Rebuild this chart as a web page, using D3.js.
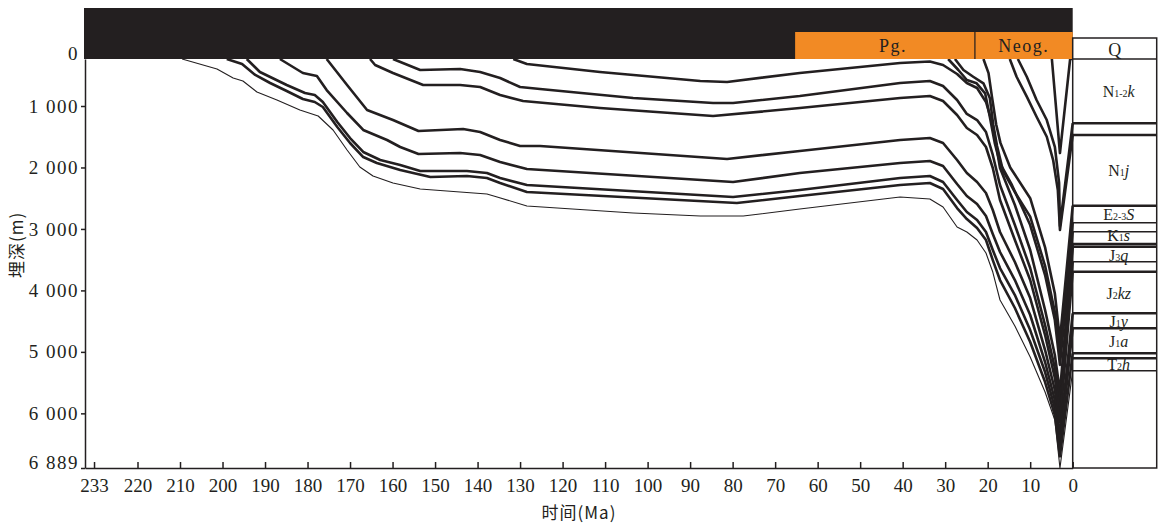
<!DOCTYPE html>
<html>
<head>
<meta charset="utf-8">
<script src="https://cdn.jsdelivr.net/npm/d3@7"></script>
<style>
  body { margin: 0; background: #fff; }
  svg text { font-family: "Liberation Serif", "DejaVu Serif", serif; fill: #231f20; }
  svg text.cjk { font-family: "Noto Sans CJK SC", sans-serif; }
</style>
</head>
<body>
<svg id="chart" width="1168" height="525"></svg>
<script>
// ---- axis ticks ----
const timeTicks = [233, 220, 210, 200, 190, 180, 170, 160, 150, 140, 130, 120, 110, 100, 90, 80, 70, 60, 50, 40, 30, 20, 10, 0];
const depthTicks = [0, 1000, 2000, 3000, 4000, 5000, 6000, 6889];

// ---- time scale header ----
const periodNames = ["Pg.", "Neog."];
const periodStart = [65.3, 23];
const periodEnd = [23, 0];

// ---- burial curves, [time Ma, depth m] ----
const h1 = [[4.9, 0], [3.0, 1765], [0.6, 0], [0, 0]];
const h2 = [[12.9, 0], [10.8, 377], [8.5, 872], [6.1, 1228], [4.2, 1663], [3.2, 2253], [3.0, 2950], [0, 1281]];
const h3 = [[14.8, 0], [13.2, 377], [10.8, 802], [8.5, 1174], [6.1, 1500], [4.6, 1879], [3.5, 2367], [3.0, 3017], [0, 1472]];
const h4 = [[21.0, 0], [19.8, 300], [19.0, 800], [18.0, 1300], [17.0, 1600], [14.7, 2000], [10.0, 2500], [6.5, 3300], [4.2, 4050], [3.0, 4800], [0, 2622]];
const h5 = [[27.7, 0], [25.7, 234], [23.4, 377], [21.0, 517], [19.5, 830], [18.7, 1300], [17.8, 1650], [16.4, 2050], [13.6, 2400], [10.0, 2800], [6.5, 3600], [4.2, 4350], [3.0, 5000], [0, 2899]];
const h6 = [[29.3, 0], [26.9, 234], [24.9, 447], [22.6, 517], [20.6, 730], [19.5, 1174], [18.3, 1614], [17.1, 1932], [14.3, 2285], [10.0, 2936], [6.5, 3750], [4.2, 4482], [3.0, 5213], [0, 3045]];
const l1 = [[131.6, 0], [128.4, 106], [111.2, 277], [87.6, 468], [81.3, 489], [64.2, 298], [40.6, 85], [33.6, 53], [30.5, 128], [27.2, 319], [24.9, 511], [22.5, 617], [20.4, 915], [18.8, 1309], [17.1, 2009], [13.6, 2611], [10.0, 3343], [6.5, 4319], [4.2, 5051], [3.0, 5650], [0, 3245]];
const l2 = [[159.9, 0], [153.5, 234], [144.1, 213], [139.4, 277], [134.7, 404], [130.0, 596], [125.3, 638], [103.4, 830], [84.6, 936], [79.9, 936], [64.2, 787], [40.6, 511], [33.6, 468], [30.5, 575], [27.2, 872], [24.9, 1130], [22.5, 1228], [20.4, 1423], [18.8, 1797], [17.1, 2285], [13.6, 2936], [10.0, 3636], [6.5, 4563], [4.2, 5263], [3.0, 5850], [0, 3289]];
const l3 = [[165.3, 0], [164.1, 128], [159.9, 298], [152.8, 553], [144.1, 553], [139.4, 596], [134.7, 766], [129.3, 894], [111.2, 1033], [84.6, 1163], [64.2, 1033], [40.6, 830], [33.6, 787], [30.5, 894], [27.2, 1146], [24.9, 1358], [22.5, 1472], [20.4, 1667], [18.8, 2009], [17.1, 2529], [13.6, 3180], [10.0, 3831], [6.5, 4726], [4.2, 5425], [3.0, 6000], [0, 3533]];
const l4 = [[175.5, 0], [170.7, 553], [166.0, 1065], [159.9, 1228], [153.9, 1407], [143.4, 1374], [139.4, 1423], [134.7, 1553], [130.0, 1651], [125.3, 1651], [81.3, 1862], [64.2, 1732], [40.6, 1553], [33.6, 1521], [30.5, 1602], [27.2, 1879], [24.9, 2090], [22.5, 2237], [20.4, 2415], [18.8, 2692], [17.1, 3050], [13.6, 3538], [10.0, 4124], [6.5, 4970], [4.2, 5621], [3.0, 6150], [0, 3696]];
const l5 = [[186.5, 0], [181.1, 298], [177.8, 362], [175.5, 660], [170.7, 1114], [166.9, 1390], [161.3, 1553], [158.2, 1667], [153.9, 1781], [144.1, 1765], [139.4, 1797], [134.7, 1911], [128.4, 2025], [79.9, 2237], [64.2, 2090], [40.6, 1927], [33.6, 1895], [30.5, 1976], [27.2, 2269], [24.9, 2464], [22.5, 2594], [20.4, 2790], [18.8, 3083], [17.1, 3375], [13.6, 3831], [10.0, 4400], [6.5, 5165], [4.2, 5783], [3.0, 6350], [0, 4372]];
const l6 = [[194.3, 0], [191.2, 277], [184.9, 553], [180.6, 724], [178.3, 766], [176.4, 915], [173.0, 1260], [170.0, 1521], [166.9, 1748], [162.9, 1879], [158.2, 1960], [153.5, 2058], [142.5, 2058], [137.8, 2090], [134.7, 2171], [128.4, 2285], [79.9, 2481], [64.2, 2367], [40.6, 2171], [33.6, 2139], [30.5, 2237], [27.2, 2529], [24.9, 2725], [22.5, 2855], [20.4, 3050], [18.8, 3343], [17.1, 3636], [13.6, 4075], [10.0, 4645], [6.5, 5328], [4.2, 5914], [3.0, 6550], [0, 4616]];
const l7 = [[199.0, 0], [195.4, 106], [192.3, 340], [188.8, 511], [184.9, 681], [181.1, 851], [178.3, 915], [176.4, 1016], [173.0, 1342], [170.0, 1602], [166.9, 1830], [163.7, 1927], [158.2, 2041], [151.1, 2155], [142.5, 2139], [137.8, 2171], [134.7, 2253], [128.4, 2399], [79.0, 2578], [64.2, 2464], [40.6, 2285], [33.6, 2253], [30.5, 2350], [27.2, 2660], [24.9, 2839], [22.5, 2985], [20.4, 3180], [18.8, 3506], [17.1, 3831], [13.6, 4286], [10.0, 4840], [6.5, 5491], [4.2, 6027], [3.0, 6700], [0, 5023]];
const l8 = [[209.5, 0], [201.3, 213], [197.5, 404], [195.2, 468], [191.9, 702], [187.2, 872], [181.8, 1065], [177.5, 1163], [174.0, 1390], [170.7, 1716], [167.7, 1992], [164.6, 2139], [159.9, 2253], [153.5, 2350], [144.1, 2399], [137.8, 2432], [135.4, 2480], [128.4, 2627], [103.4, 2741], [87.6, 2790], [77.5, 2790], [64.2, 2676], [40.6, 2480], [33.6, 2513], [30.5, 2643], [27.2, 2969], [24.9, 3050], [22.5, 3180], [20.4, 3392], [18.8, 3701], [17.1, 4156], [13.6, 4579], [10.0, 5084], [6.5, 5653], [4.2, 6108], [3.0, 6889], [0, 5306]];

// ---- present-day stratigraphic column ----
const columnBreaks = [1281, 1472, 2622, 2899, 3045, 3245, 3289, 3533, 3696, 4372, 4616, 5023, 5104, 5306];
const thinBreaks = [2899, 3045, 3533, 5306];
const formationLetter = ["N", "N", "E", "K", "J", "J", "J", "J", "T"];
const formationSub = ["1-2", "1", "2-3", "1", "3", "2", "1", "1", "2"];
const formationItalic = ["k", "j", "S", "s", "q", "kz", "y", "a", "h"];
const formationTop = [0, 1472, 2622, 3045, 3289, 3696, 4372, 4616, 5104];
const formationBase = [1281, 2622, 2899, 3245, 3533, 4372, 4616, 5023, 5306];

const ink = "#231f20";
const orange = "#f28a24";
const serif = "Liberation Serif, DejaVu Serif, serif";

const svg = d3.select("#chart");

const x = d3.scaleLinear().domain([235.7, 220, 0]).range([85, 137.5, 1072.7]);
const y = d3.scaleLinear().domain([0, 1000, 6889]).range([59, 106, 468]);

const fmt = d3.formatLocale({decimal: ".", thousands: " ", grouping: [3], currency: ["", ""]}).format(",");

// burial curves
const horizons = [h1, h2, h3, h4, h5, h6, l1, l2, l3, l4, l5, l6, l7, l8];
const line = d3.line().x(d => x(d[0])).y(d => y(d[1]));

svg.append("g").selectAll("path")
  .data(horizons)
  .join("path")
  .attr("d", line)
  .attr("fill", "none")
  .attr("stroke", ink)
  .attr("stroke-width", d => d === l8 ? 1.1 : 2.6)
  .attr("stroke-linejoin", "round");

// black band + period boxes
const bandTop = 8, headerTop = 32;
svg.append("rect")
  .attr("x", 84).attr("y", bandTop)
  .attr("width", x(0) - 84).attr("height", y(0) - bandTop)
  .attr("fill", ink);

svg.append("g").selectAll("rect")
  .data(periodNames)
  .join("rect")
  .attr("x", (d, i) => x(periodStart[i]))
  .attr("y", headerTop)
  .attr("width", (d, i) => x(periodEnd[i]) - x(periodStart[i]))
  .attr("height", y(0) - headerTop)
  .attr("fill", orange);

svg.append("line")
  .attr("x1", x(periodEnd[0])).attr("x2", x(periodEnd[0]))
  .attr("y1", headerTop).attr("y2", y(0))
  .attr("stroke", ink).attr("stroke-width", 1.2);

svg.append("g").selectAll("text")
  .data(periodNames)
  .join("text")
  .attr("x", (d, i) => (x(periodStart[i]) + x(periodEnd[i])) / 2 + (i === 0 ? 8 : 0))
  .attr("y", (headerTop + y(0)) / 2 + 6)
  .attr("text-anchor", "middle")
  .attr("font-size", 18)
  .attr("letter-spacing", 1.5)
  .text(d => d);

// axes
const yAxis = svg.append("g")
  .attr("transform", `translate(${x(235.7)},0)`)
  .call(d3.axisLeft(y).tickValues(depthTicks).tickFormat(fmt).tickSizeInner(4).tickSizeOuter(0).tickPadding(2))
  .attr("font-family", serif);
yAxis.selectAll("text")
  .attr("font-size", 19)
  .attr("letter-spacing", 1.5)
  .attr("transform", d => (d === 0 || d === 6889) ? "translate(0,-6)" : null);
yAxis.selectAll(".tick line").filter(d => d === 0).remove();

const xAxis = svg.append("g")
  .attr("transform", `translate(0,${y(6889)})`)
  .call(d3.axisBottom(x).tickValues(timeTicks).tickSizeInner(-6).tickSizeOuter(0).tickPadding(11))
  .attr("font-family", serif);
xAxis.selectAll("text").attr("font-size", 19);

svg.selectAll(".domain, .tick line").attr("stroke", ink).attr("stroke-width", 1.5);
svg.selectAll(".tick text").attr("fill", ink);

// axis titles
svg.append("text")
  .attr("class", "cjk")
  .attr("x", 579).attr("y", 519)
  .attr("text-anchor", "middle")
  .attr("font-size", 17)
  .attr("letter-spacing", 1)
  .text("时间(Ma)");

svg.append("text")
  .attr("class", "cjk")
  .attr("transform", "translate(23,245) rotate(-90)")
  .attr("text-anchor", "middle")
  .attr("font-size", 17)
  .attr("letter-spacing", 1)
  .text("埋深(m)");

// stratigraphic column
const colLeft = x(0), colWidth = 84, qTop = y(0) - 21;
const col = svg.append("g");
col.append("rect")
  .attr("x", colLeft).attr("y", qTop)
  .attr("width", colWidth).attr("height", y(6889) - qTop)
  .attr("fill", "none").attr("stroke", ink).attr("stroke-width", 1.5);
col.append("line")
  .attr("x1", colLeft).attr("x2", colLeft + colWidth)
  .attr("y1", y(0)).attr("y2", y(0))
  .attr("stroke", ink).attr("stroke-width", 1.5);
col.selectAll("line.brk")
  .data(columnBreaks)
  .join("line")
  .attr("class", "brk")
  .attr("x1", colLeft).attr("x2", colLeft + colWidth)
  .attr("y1", d => y(d)).attr("y2", d => y(d))
  .attr("stroke", ink)
  .attr("stroke-width", d => thinBreaks.includes(d) ? 1.4 : 2.4);

col.append("text")
  .attr("x", colLeft + colWidth / 2).attr("y", (qTop + y(0)) / 2 + 7)
  .attr("text-anchor", "middle").attr("font-size", 18)
  .text("Q");

// small vertical nudges so the tightly packed K1s / J3q labels do not collide
const labelShift = [6, 6, 6, 3, 7, 6, 6, 6, 6];
const labels = col.selectAll("text.fm")
  .data(formationLetter)
  .join("text")
  .attr("class", "fm")
  .attr("x", colLeft + colWidth / 2 + 4)
  .attr("y", (d, i) => (y(formationTop[i]) + y(formationBase[i])) / 2 + labelShift[i])
  .attr("text-anchor", "middle")
  .attr("font-size", 16);
labels.append("tspan").text(d => d);
labels.append("tspan").attr("font-size", 10).text((d, i) => formationSub[i]);
labels.append("tspan").attr("font-style", "italic").text((d, i) => formationItalic[i]);
</script>
</body>
</html>
